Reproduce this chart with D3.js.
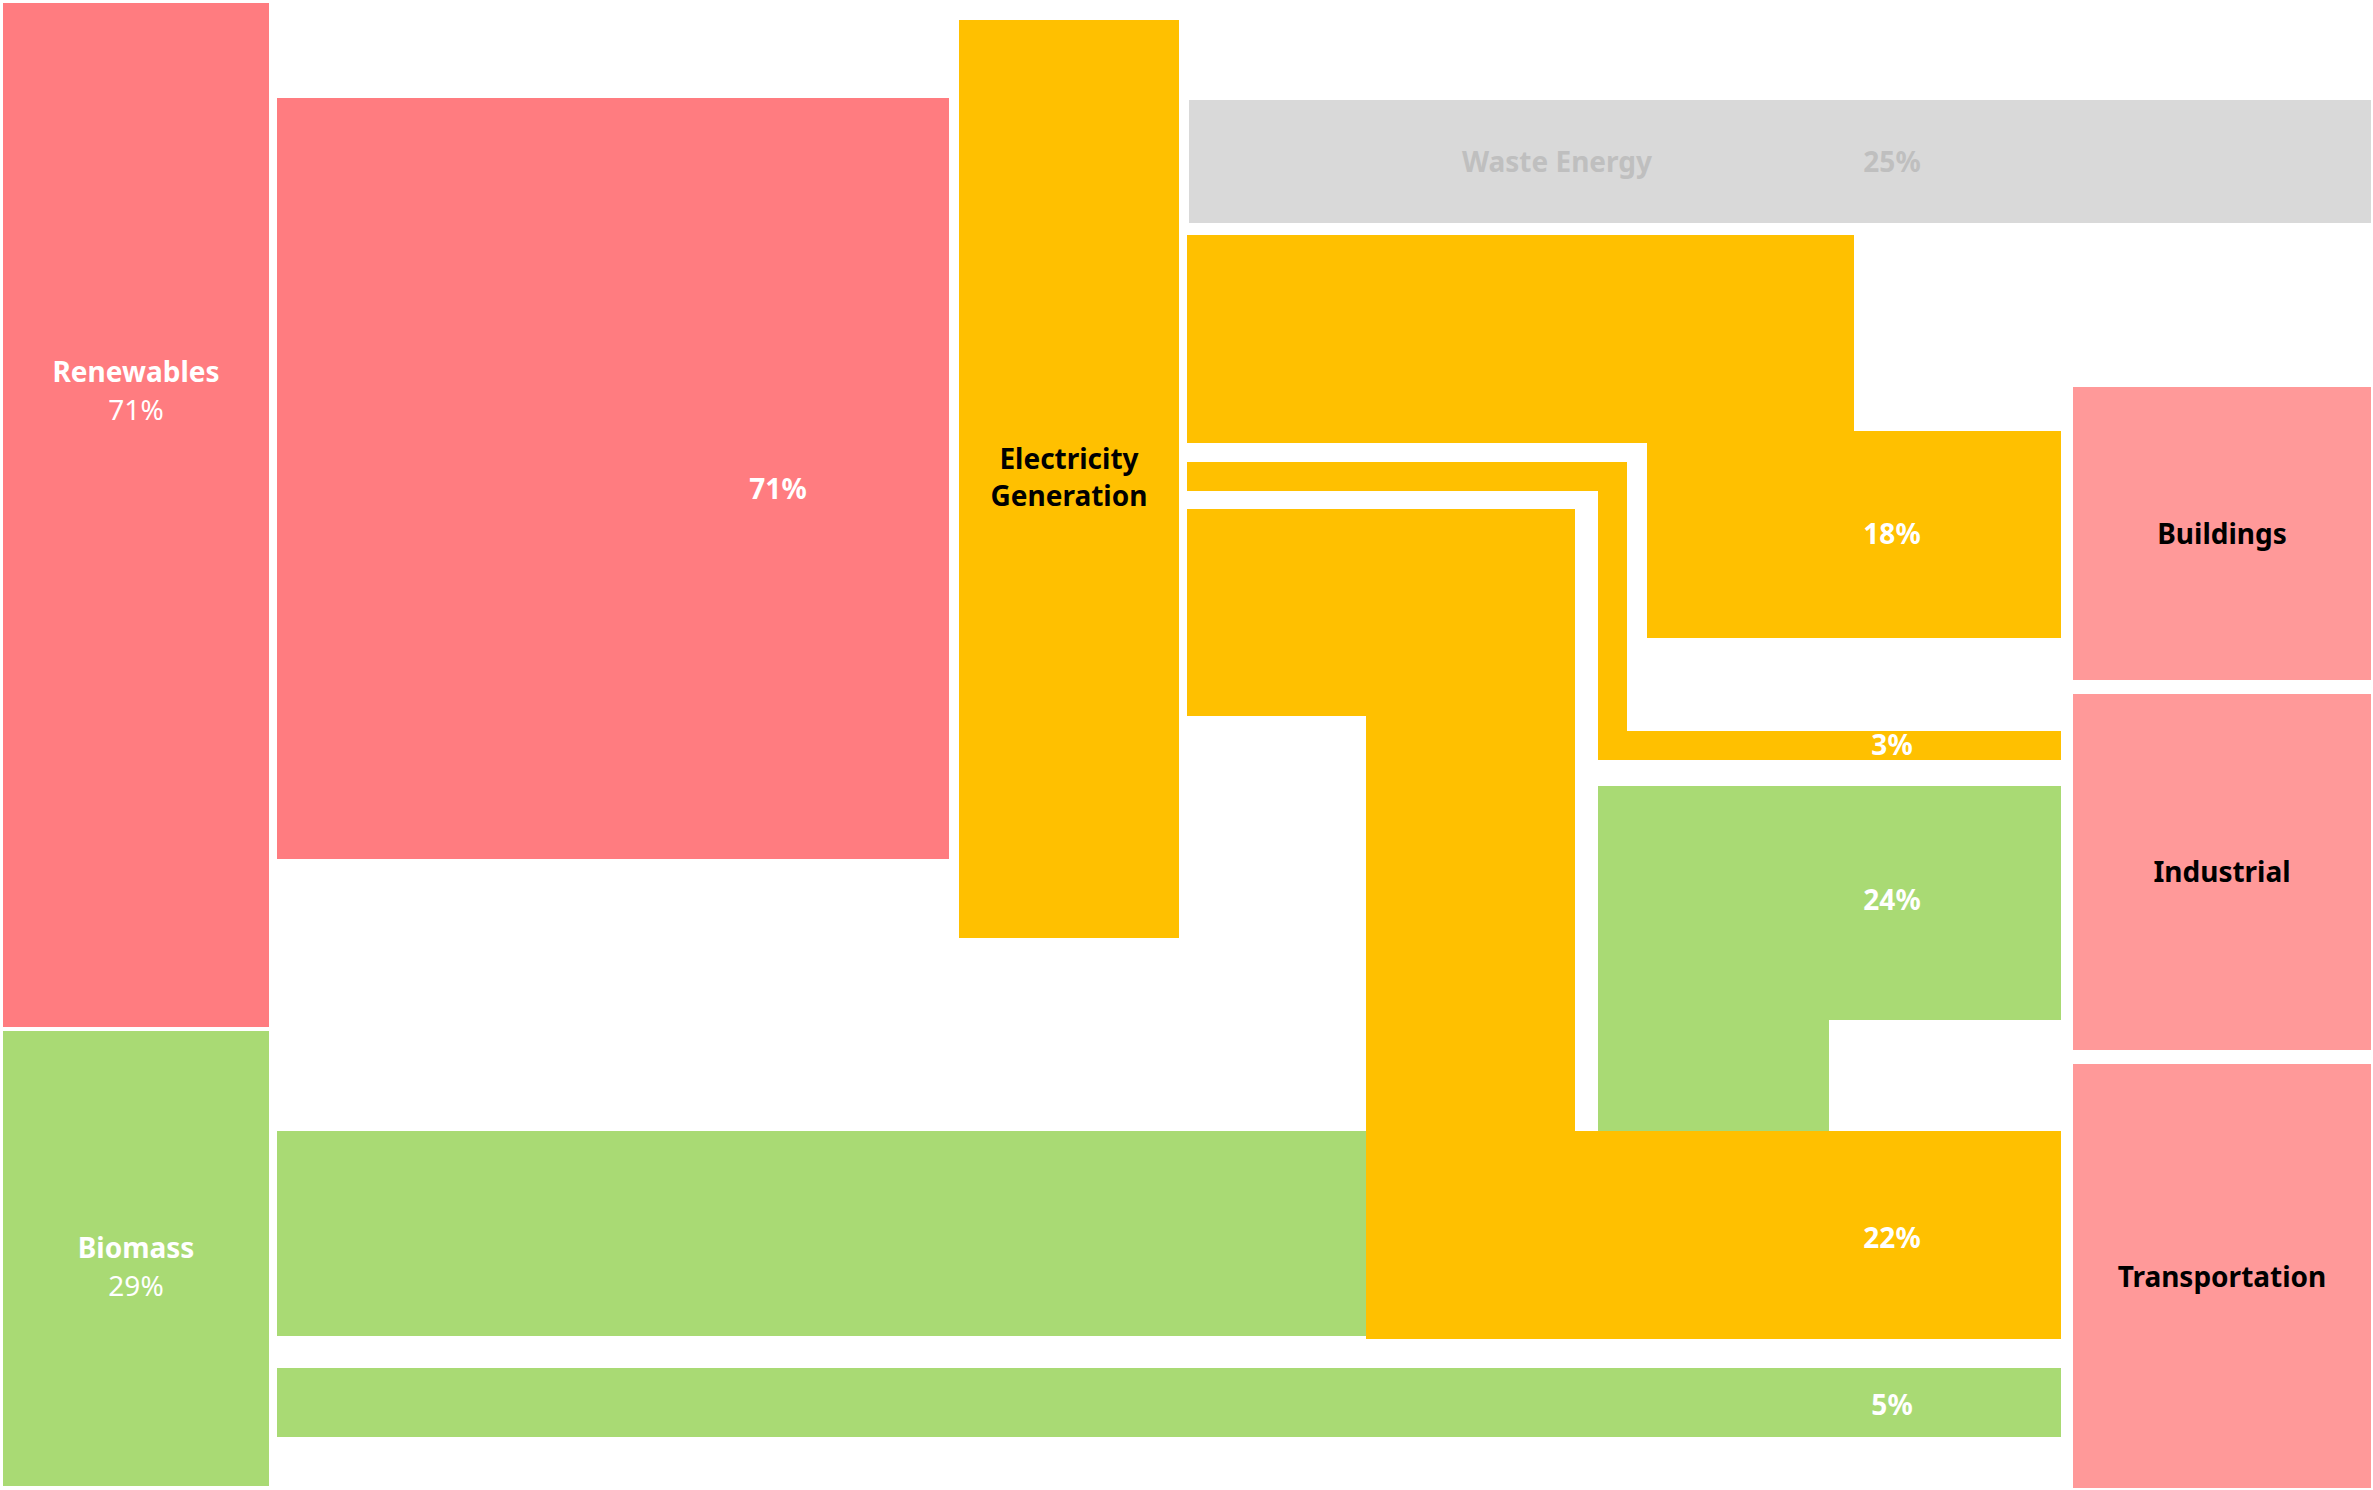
<!DOCTYPE html>
<html><head><meta charset="utf-8">
<script src="https://cdn.jsdelivr.net/npm/d3@7"></script>
<style>body{margin:0;background:#fff}svg{display:block}text{font-family:"Noto Sans",sans-serif}</style>
</head><body><svg id="c"></svg>
<script>
// ---- data ----
const nodeNames  = ["Renewables", "Biomass", "Electricity Generation", "Buildings", "Industrial", "Transportation"];
const nodeShares = ["71%", "29%", "", "", "", ""];
const nodeColors = ["#FF7C80", "#A9DA74", "#FFC000", "#FF9999", "#FF9999", "#FF9999"];
// node boxes in layout units [x0, y0, x1, y1]
const nodeBoxes = [[3,3,269,1027],[3,1031,269,1486],[959,20,1179,938],[2073,387,2371,680],[2073,694,2371,1050],[2073,1064,2371,1488]];

const linkSources = ["Renewables", "Electricity Generation", "Biomass", "Electricity Generation", "Electricity Generation", "Electricity Generation", "Biomass"];
const linkTargets = ["Electricity Generation", "Waste Energy", "Industrial", "Buildings", "Industrial", "Transportation", "Transportation"];
const linkValues  = [71, 25, 24, 18, 3, 22, 5];
const linkColors  = ["#FF7C80", "#D9D9D9", "#A9DA74", "#FFC000", "#FFC000", "#FFC000", "#A9DA74"];
// rectilinear routes in layout units
const linkRoutes = [
  [[277,98],[949,98],[949,859],[277,859]],
  [[1189,100],[2371,100],[2371,223],[1189,223]],
  [[277,1131],[1598,1131],[1598,786],[2061,786],[2061,1020],[1829,1020],[1829,1336],[277,1336]],
  [[1187,235],[1854,235],[1854,431],[2061,431],[2061,638],[1647,638],[1647,443],[1187,443]],
  [[1187,462],[1627,462],[1627,731],[2061,731],[2061,760],[1598,760],[1598,491],[1187,491]],
  [[1187,509],[1575,509],[1575,1131],[2061,1131],[2061,1339],[1366,1339],[1366,716],[1187,716]],
  [[277,1368],[2061,1368],[2061,1437],[277,1437]]
];
const linkLabelPos = [[778,488],[1892,161],[1892,899],[1892,533],[1892,744],[1892,1237],[1892,1404]];

// ---- chart ----
const W = 2373, H = 1490;
const svg = d3.select("#c").attr("width", W).attr("height", H);
const x = d3.scaleLinear().domain([0, 2373]).range([0, W]);
const y = d3.scaleLinear().domain([0, 1490]).range([0, H]);
const line = d3.line().x(d => x(d[0])).y(d => y(d[1])).curve(d3.curveLinearClosed);

const links = linkValues.map((v, i) => ({v, src: linkSources[i], tgt: linkTargets[i], route: linkRoutes[i], color: linkColors[i], lp: linkLabelPos[i]}));
svg.append("g").selectAll("path").data(links).join("path")
  .attr("d", d => line(d.route)).attr("fill", d => d.color);

svg.append("g").selectAll("rect").data(nodeNames).join("rect")
  .attr("x", (d, i) => x(nodeBoxes[i][0])).attr("y", (d, i) => y(nodeBoxes[i][1]))
  .attr("width", (d, i) => x(nodeBoxes[i][2]) - x(nodeBoxes[i][0]))
  .attr("height", (d, i) => y(nodeBoxes[i][3]) - y(nodeBoxes[i][1]))
  .attr("fill", (d, i) => nodeColors[i]);

// link labels
const ll = svg.append("g");
links.forEach(d => {
  if (d.tgt === "Waste Energy") {
    ll.append("text").attr("x", x(1557)).attr("y", y(d.lp[1])).attr("text-anchor", "middle")
      .attr("dominant-baseline", "central").attr("font-size", 28).attr("font-weight", "bold")
      .attr("fill", "#BFBFBF").text("Waste Energy");
    ll.append("text").attr("x", x(d.lp[0])).attr("y", y(d.lp[1])).attr("text-anchor", "middle")
      .attr("dominant-baseline", "central").attr("font-size", 28).attr("font-weight", "bold")
      .attr("fill", "#BFBFBF").text(d.v + "%");
  } else {
    ll.append("text").attr("x", x(d.lp[0])).attr("y", y(d.lp[1])).attr("text-anchor", "middle")
      .attr("dominant-baseline", "central").attr("font-size", 28).attr("font-weight", "bold")
      .attr("fill", "#fff").text(d.v + "%");
  }
});

// node labels
const nl = svg.append("g");
nodeNames.forEach((n, i) => {
  const b = nodeBoxes[i];
  const cx = x((b[0] + b[2]) / 2);
  if (nodeShares[i]) {
    const ty = i === 0 ? y(371) : y(1247);
    nl.append("text").attr("x", cx).attr("y", ty).attr("text-anchor", "middle").attr("dominant-baseline", "central")
      .attr("font-size", 28).attr("font-weight", "bold").attr("fill", "#fff").text(n);
    nl.append("text").attr("x", cx).attr("y", ty + 38).attr("text-anchor", "middle").attr("dominant-baseline", "central")
      .attr("font-size", 28).attr("fill", "#fff").text(nodeShares[i]);
  } else if (n === "Electricity Generation") {
    nl.append("text").attr("x", cx).attr("y", y(458)).attr("text-anchor", "middle").attr("dominant-baseline", "central")
      .attr("font-size", 28).attr("font-weight", "bold").attr("fill", "#000").text("Electricity");
    nl.append("text").attr("x", cx).attr("y", y(495)).attr("text-anchor", "middle").attr("dominant-baseline", "central")
      .attr("font-size", 28).attr("font-weight", "bold").attr("fill", "#000").text("Generation");
  } else {
    const ty = {Buildings: 533, Industrial: 871, Transportation: 1276}[n];
    nl.append("text").attr("x", cx).attr("y", y(ty)).attr("text-anchor", "middle").attr("dominant-baseline", "central")
      .attr("font-size", 28).attr("font-weight", "bold").attr("fill", "#000").text(n);
  }
});
</script></body></html>
